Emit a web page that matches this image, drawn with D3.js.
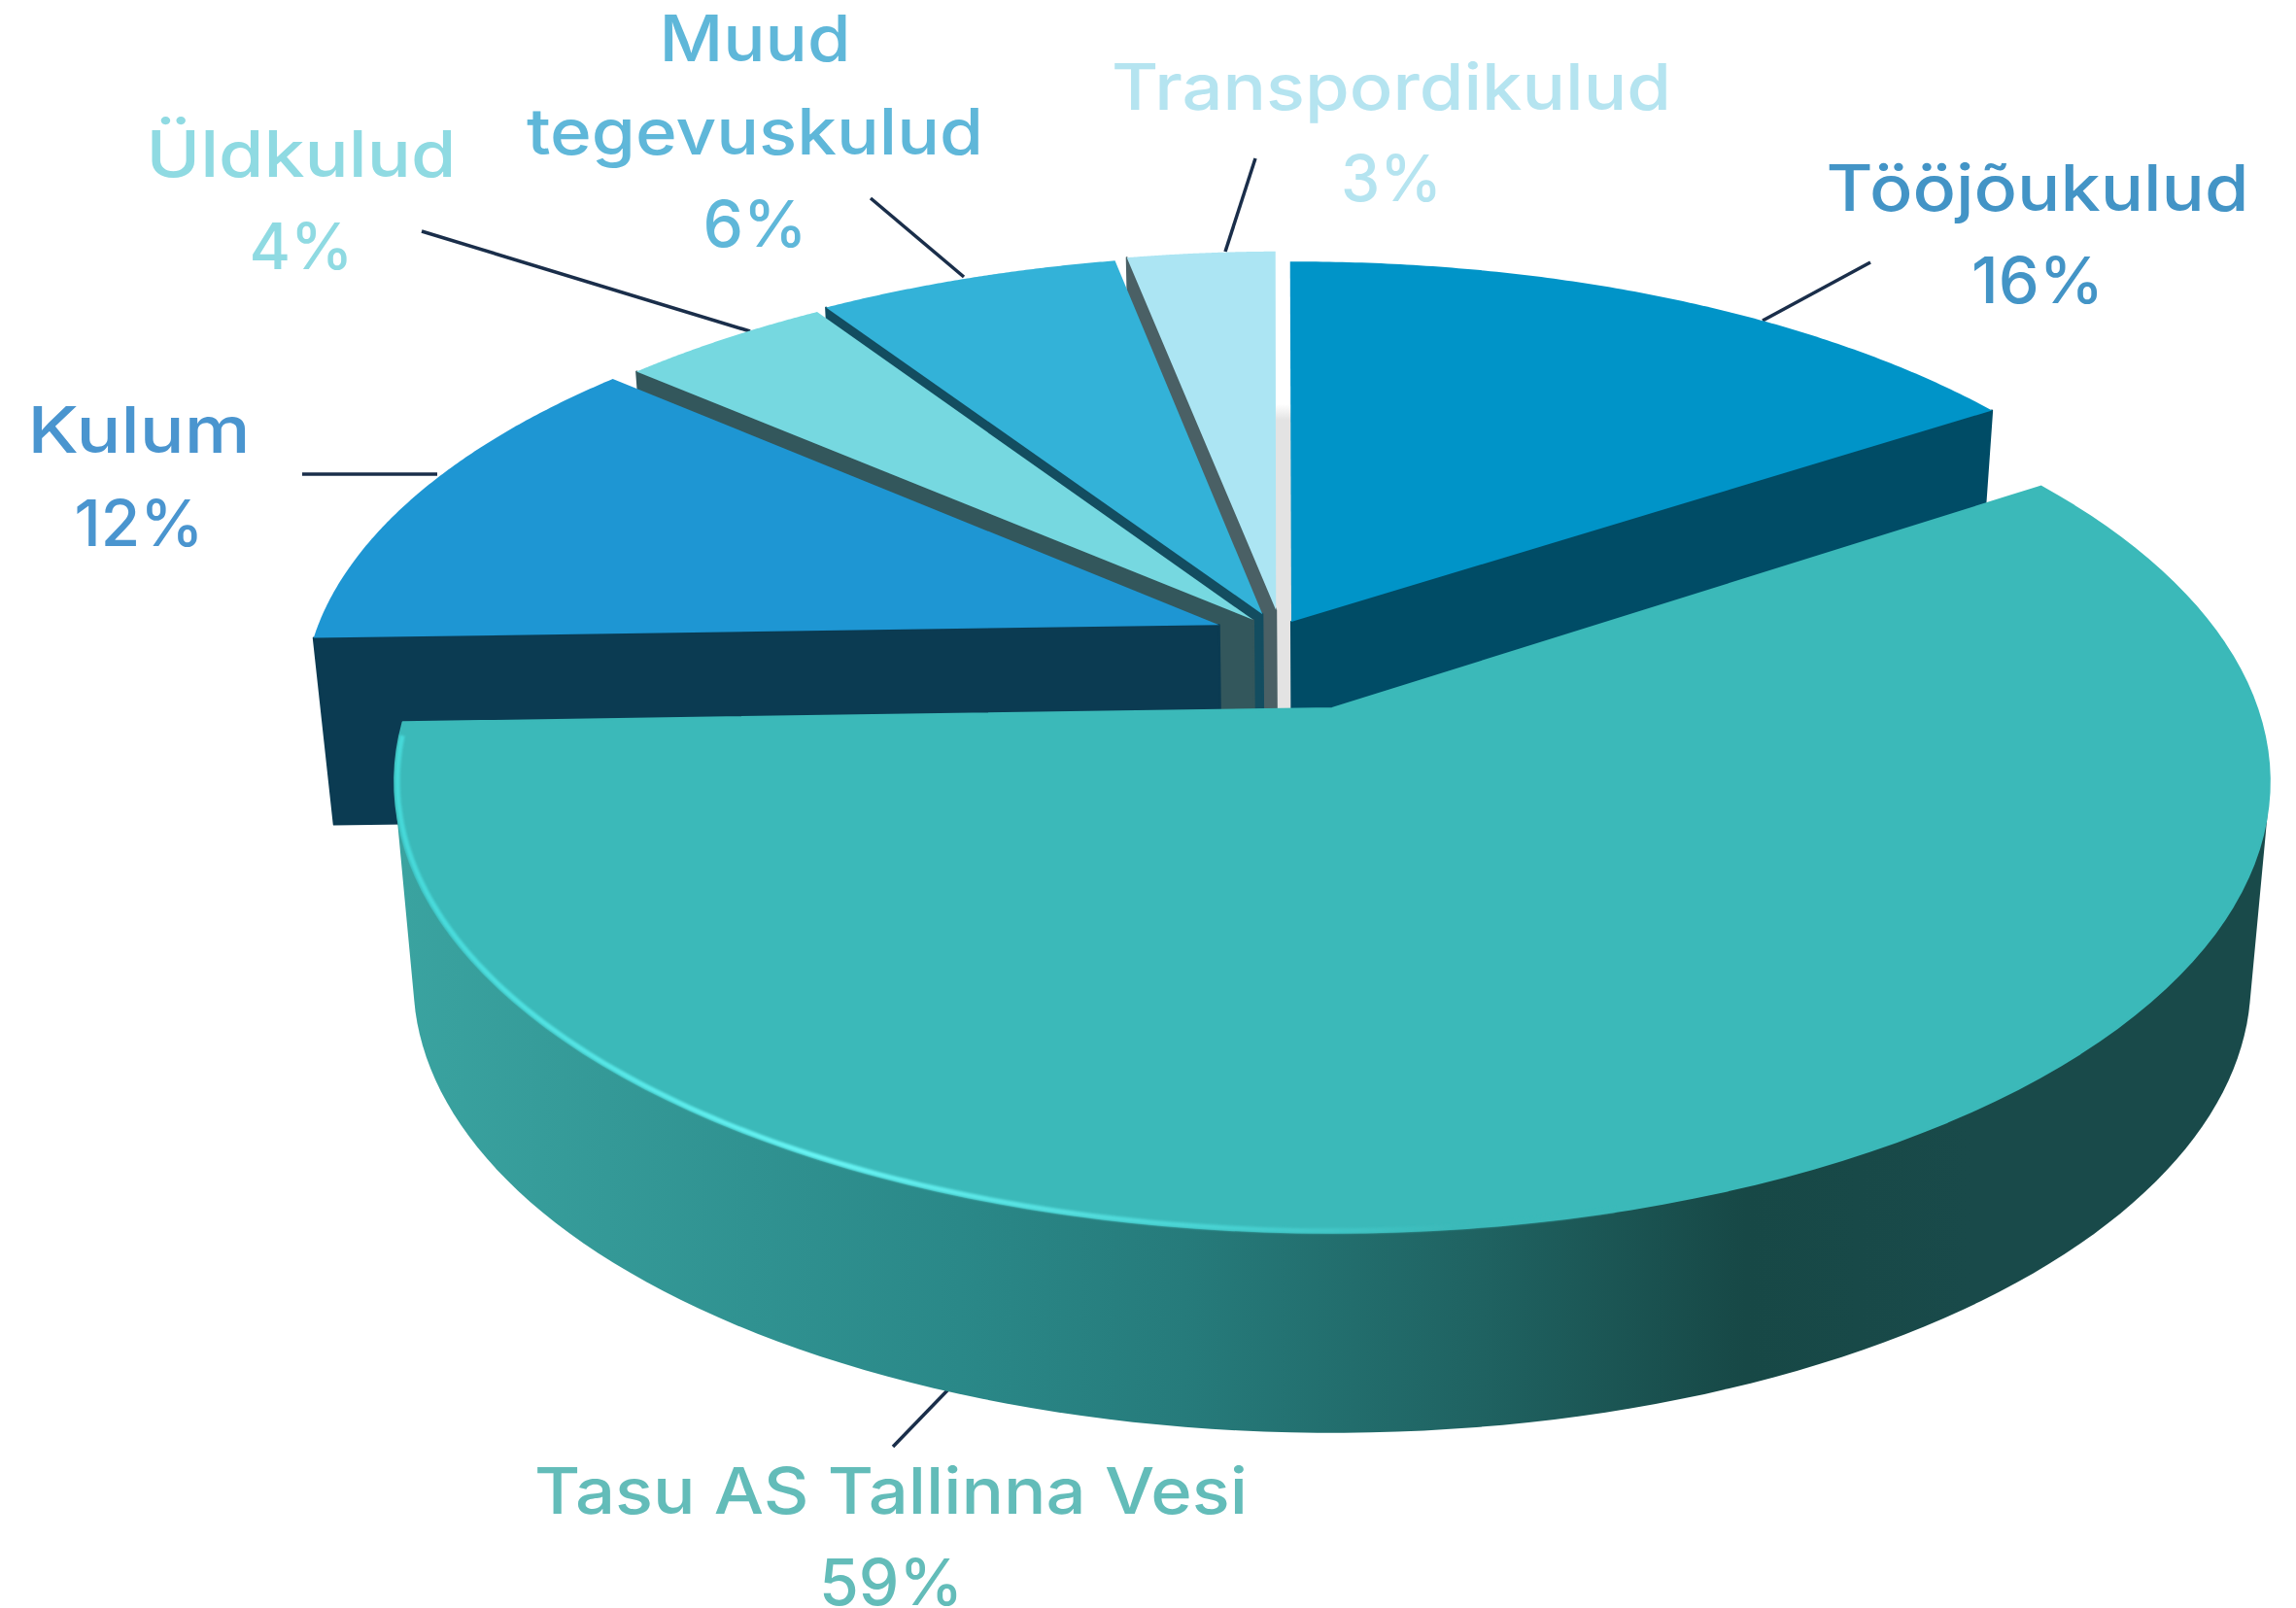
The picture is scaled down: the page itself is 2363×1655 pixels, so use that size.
<!DOCTYPE html>
<html>
<head>
<meta charset="utf-8">
<style>
  body { margin: 0; background: #fff; }
  svg { display: block; }
  text { font-family: Inter, "Open Sans", sans-serif; font-weight: 500; font-size: 66px; text-anchor: middle; }
</style>
</head>
<body>
<svg width="2363" height="1655"></svg>
<script src="https://d3js.org/d3.v7.min.js"></script>
<script>
const categories = ["Tööjõukulud", "Tasu AS Tallinna Vesi", "Kulum", "Üldkulud", "Muud tegevuskulud", "Transpordikulud"];
const shares = [16, 59, 12, 4, 6, 3];
const shareLabels = ["16%", "59%", "12%", "4%", "6%", "3%"];

// colours per slice
const topColors = ["#0094c8", "#3bb9b9", "#1e96d3", "#76d8e0", "#33b2d8", "#ace5f3"];
const wallColors = ["#004c66", "#277f7f", "#0b3b52", "#33575c", "#134d60", "#4a6065"];
const textColors = ["#4394c6", "#63bcb9", "#4a95cf", "#8fdae2", "#5fb7d9", "#b5e4f0"];

// explode offset of each slice on the pie plane, radius, wall height
const offsets = [[-0.0456, 0.2035], [0, 0], [-0.126, 0.196], [-0.088, 0.208], [-0.078, 0.222], [-0.063, 0.232]];
const radii = [1.015, 1, 1.005, 1.02, 1.02, 1.02];
const wallHeights = [192, 206, 192, 192, 192, 192];
// the picture's pie is a bit off true angles, degrees at each slice border
const borderNudge = [-0.5, -1.0, -1.8, -2.3, -1.2, -0.7, -0.6];

// label lines: centre x, baselines, widths
const labelLayout = [
  { x: 2097, y: [217, 312], w: [435, 136] },
  { x: 917, y: [1558, 1652], w: [734, 148] },
  { x: 143, y: [466, 562], w: [229, 133] },
  { x: 310, y: [182, 277], w: [319, 107] },
  { x: 777, y: [63, 159, 254], w: [197, 470, 107] },
  { x: 1432, y: [113, 207], w: [576, 104] }
];
const leaders = [
  [1925, 270, 1814, 330],
  [919, 1489, 977, 1429],
  [311, 488, 450, 488],
  [434, 238, 772, 341],
  [896, 204, 992, 285],
  [1292, 163, 1261, 259]
];

const svg = d3.select("svg");
const defs = svg.append("defs");

// plane -> screen, a plain perspective projection of the pie disc
const cx = 1371, cy = 729, R = 952, S = 452, k = 0.1625;
const project = (u, v) => {
  const w = 1 + k * v;
  return [cx + R * u / w, cy - S * v / w];
};
// same point on the underside of the pie
const drop = (p, h) => [cx + (p[0] - cx) * 0.98, p[1] + h];
const rad = d => d * Math.PI / 180;

const slices = d3.pie().sort(null).value(d => d)(shares);
const line = d3.line();

const rim = (i, a0, a1, inset = 1) => d3.range(0, 121).map(t => {
  const a = a0 + (a1 - a0) * t / 120;
  const r = radii[i] * inset;
  return project(offsets[i][0] + r * Math.sin(a), offsets[i][1] + r * Math.cos(a));
});
const apex = i => project(offsets[i][0], offsets[i][1]);

// gradients
const addGrad = (id, x1, x2, stops) => {
  const g = defs.append("linearGradient").attr("id", id)
    .attr("gradientUnits", "userSpaceOnUse").attr("x1", x1).attr("x2", x2).attr("y1", 0).attr("y2", 0);
  stops.forEach(s => g.append("stop").attr("offset", s[0]).attr("stop-color", s[1]));
};
addGrad("bigWall", 410, 2336, [[0, "#3aa3a0"], [0.3, "#2a8888"], [0.42, "#267b7b"], [0.58, "#1f6261"], [0.72, "#174846"], [0.84, "#194a4a"], [1, "#194a4a"]]);
addGrad("lip", 404, 1500, [[0, "#45d8d8"], [0.4, "#68f4f4"], [0.78, "#48d2d2"], [1, "#3bb9b9"]]);

const strip = defs.append("linearGradient").attr("id", "strip").attr("x1", 0).attr("x2", 0).attr("y1", 0).attr("y2", 1);
strip.append("stop").attr("offset", 0).attr("stop-color", "#ffffff");
strip.append("stop").attr("offset", 0.05).attr("stop-color", "#e3e3e3");
strip.append("stop").attr("offset", 1).attr("stop-color", "#e3e3e3");

defs.append("filter").attr("id", "soft").append("feGaussianBlur").attr("stdDeviation", 0.9);

// leader lines sit behind the pie
svg.append("g").selectAll("line").data(leaders).join("line")
  .attr("x1", d => d[0]).attr("y1", d => d[1]).attr("x2", d => d[2]).attr("y2", d => d[3])
  .attr("stroke", "#1a2e4a").attr("stroke-width", 3.5);

svg.append("rect").attr("x", 1313).attr("y", 416).attr("width", 18).attr("height", 320).attr("fill", "url(#strip)");

// back slices first, big one last
[5, 4, 3, 2, 0, 1].forEach(i => {
  const s = slices[i];
  const a0 = s.startAngle + rad(borderNudge[i]);
  const a1 = s.endAngle + rad(borderNudge[i + 1]);
  const a = apex(i);
  const h = wallHeights[i];
  const g = svg.append("g");
  if (i === 1) {
    // hull of the front half of the rim and its underside, the top face covers the rest
    const front = rim(i, rad(99), a1);
    g.append("path").attr("d", line(d3.polygonHull(front.concat(front.map(p => drop(p, h))))) + "Z")
      .attr("fill", "url(#bigWall)");
    g.append("path").attr("d", line(rim(i, a0, a1).concat([a])) + "Z").attr("fill", topColors[i])
      .attr("stroke", topColors[i]).attr("stroke-width", 2).attr("stroke-linejoin", "round");
    g.append("path").attr("d", line(rim(i, rad(165), a1 - 0.03, 0.997))).attr("fill", "none")
      .attr("stroke", "url(#lip)").attr("stroke-width", 5).attr("filter", "url(#soft)");
    return;
  }
  // the cut edge that faces the viewer: end edge of the first slice, start edge of the others
  const edge = rim(i, i === 0 ? a1 : a0, i === 0 ? a1 : a0)[0];
  g.append("path").attr("d", line([a, edge, drop(edge, h), drop(a, h)]) + "Z")
    .attr("fill", wallColors[i]).attr("stroke", wallColors[i]).attr("stroke-width", 2).attr("stroke-linejoin", "round");
  g.append("path").attr("d", line(rim(i, a0, a1).concat([a])) + "Z").attr("fill", topColors[i]);
});

// label text comes from the category and share arrays
const wrapped = i => (categories[i] === "Muud tegevuskulud" ? categories[i].split(" ") : [categories[i]]).concat(shareLabels[i]);
labelLayout.forEach((d, i) => {
  svg.append("g").attr("fill", textColors[i]).selectAll("text").data(wrapped(i)).join("text")
    .attr("x", d.x).attr("y", (t, j) => d.y[j])
    .attr("textLength", (t, j) => d.w[j]).attr("lengthAdjust", "spacingAndGlyphs")
    .text(t => t);
});
</script>
</body>
</html>
